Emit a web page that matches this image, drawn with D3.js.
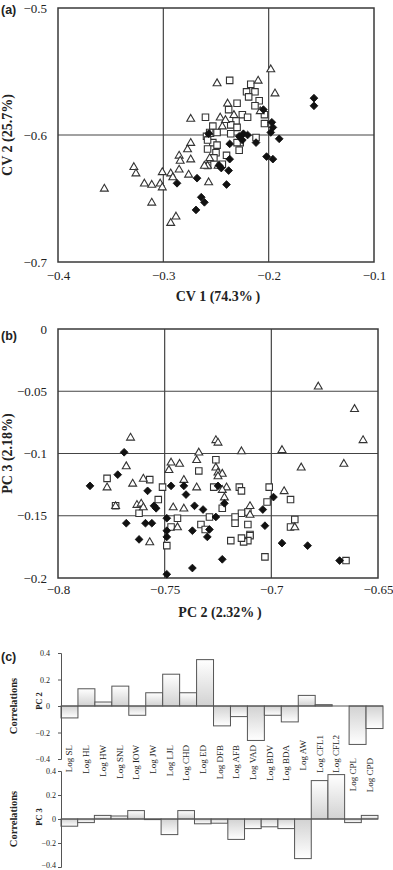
<!DOCTYPE html>
<html>
<head>
<meta charset="utf-8">
<script src="https://cdn.jsdelivr.net/npm/d3@7"></script>
<style>
  body { margin: 0; background: #fff; }
  svg { display: block; }
  text { font-family: "Liberation Serif", "Times New Roman", serif; fill: #222; }
  .panel-tag { font-family: "Liberation Sans", Arial, sans-serif; font-weight: bold; font-size: 12.5px; }
</style>
</head>
<body>
<div id="chart"></div>
<script>
// ---- (a) canonical variates : [CV1, CV2]
var cv_tri = [[-0.198,-0.548],[-0.249,-0.559],[-0.210,-0.557],[-0.194,-0.567],[-0.239,-0.575],[-0.208,-0.581],
  [-0.274,-0.587],[-0.246,-0.586],[-0.233,-0.584],[-0.241,-0.588],[-0.244,-0.593],[-0.256,-0.599],[-0.274,-0.606],
  [-0.277,-0.611],[-0.285,-0.616],[-0.284,-0.620],[-0.274,-0.619],[-0.328,-0.625],[-0.326,-0.630],[-0.301,-0.629],
  [-0.293,-0.630],[-0.291,-0.633],[-0.285,-0.627],[-0.276,-0.631],[-0.318,-0.638],[-0.311,-0.639],[-0.303,-0.638],
  [-0.301,-0.641],[-0.257,-0.637],[-0.356,-0.642],[-0.311,-0.653],[-0.288,-0.664],[-0.293,-0.669],[-0.256,-0.618],
  [-0.258,-0.624],[-0.248,-0.624],[-0.261,-0.624]];
var cv_sq = [[-0.237,-0.557],[-0.217,-0.560],[-0.221,-0.566],[-0.213,-0.566],[-0.219,-0.570],[-0.209,-0.573],
  [-0.230,-0.575],[-0.213,-0.577],[-0.238,-0.580],[-0.225,-0.584],[-0.204,-0.584],[-0.260,-0.586],[-0.220,-0.586],
  [-0.231,-0.589],[-0.253,-0.593],[-0.236,-0.592],[-0.230,-0.594],[-0.204,-0.591],[-0.256,-0.598],[-0.249,-0.598],
  [-0.236,-0.599],[-0.212,-0.602],[-0.259,-0.601],[-0.253,-0.606],[-0.227,-0.606],[-0.258,-0.604],[-0.249,-0.608],
  [-0.258,-0.611],[-0.250,-0.614],[-0.252,-0.618],[-0.240,-0.616],[-0.230,-0.606],[-0.228,-0.612],[-0.258,-0.624],
  [-0.244,-0.623]];
var cv_dia = [[-0.157,-0.571],[-0.157,-0.577],[-0.205,-0.580],[-0.197,-0.590],[-0.196,-0.594],[-0.198,-0.598],
  [-0.224,-0.599],[-0.220,-0.600],[-0.212,-0.606],[-0.190,-0.603],[-0.237,-0.607],[-0.228,-0.601],[-0.225,-0.604],
  [-0.202,-0.617],[-0.196,-0.619],[-0.237,-0.619],[-0.245,-0.626],[-0.238,-0.628],[-0.247,-0.624],[-0.268,-0.634],
  [-0.287,-0.638],[-0.240,-0.639],[-0.264,-0.649],[-0.261,-0.653],[-0.269,-0.659],[-0.257,-0.599]];

// ---- (b) principal components : [PC2, PC3]
var pc_tri = [[-0.678,-0.046],[-0.661,-0.064],[-0.657,-0.089],[-0.766,-0.087],[-0.734,-0.099],[-0.726,-0.089],
  [-0.725,-0.091],[-0.714,-0.098],[-0.695,-0.097],[-0.686,-0.111],[-0.666,-0.108],[-0.768,-0.110],[-0.777,-0.127],
  [-0.765,-0.124],[-0.760,-0.120],[-0.747,-0.107],[-0.743,-0.108],[-0.748,-0.113],[-0.735,-0.105],[-0.726,-0.111],
  [-0.725,-0.115],[-0.723,-0.116],[-0.741,-0.121],[-0.735,-0.127],[-0.763,-0.141],[-0.761,-0.140],[-0.760,-0.143],
  [-0.773,-0.142],[-0.746,-0.143],[-0.741,-0.144],[-0.744,-0.159],[-0.757,-0.171],[-0.721,-0.127],[-0.723,-0.129],
  [-0.722,-0.135],[-0.694,-0.130],[-0.710,-0.142],[-0.710,-0.149],[-0.689,-0.159],[-0.725,-0.118]];
var pc_sq = [[-0.726,-0.105],[-0.777,-0.120],[-0.757,-0.121],[-0.751,-0.127],[-0.753,-0.137],[-0.773,-0.142],
  [-0.762,-0.148],[-0.734,-0.114],[-0.727,-0.127],[-0.744,-0.152],[-0.747,-0.159],[-0.749,-0.174],[-0.733,-0.157],
  [-0.731,-0.161],[-0.729,-0.151],[-0.723,-0.144],[-0.715,-0.127],[-0.714,-0.130],[-0.701,-0.127],[-0.691,-0.137],
  [-0.702,-0.139],[-0.711,-0.147],[-0.714,-0.148],[-0.717,-0.151],[-0.717,-0.156],[-0.711,-0.157],[-0.689,-0.153],
  [-0.691,-0.159],[-0.710,-0.165],[-0.710,-0.166],[-0.711,-0.170],[-0.713,-0.171],[-0.719,-0.170],[-0.714,-0.168],
  [-0.703,-0.183],[-0.665,-0.186]];
var pc_dia = [[-0.769,-0.099],[-0.772,-0.117],[-0.785,-0.126],[-0.758,-0.130],[-0.747,-0.126],[-0.741,-0.126],
  [-0.740,-0.133],[-0.755,-0.142],[-0.754,-0.144],[-0.736,-0.142],[-0.732,-0.145],[-0.749,-0.152],[-0.768,-0.156],
  [-0.759,-0.156],[-0.756,-0.156],[-0.749,-0.162],[-0.749,-0.167],[-0.737,-0.162],[-0.729,-0.161],[-0.730,-0.167],
  [-0.762,-0.169],[-0.737,-0.192],[-0.749,-0.197],[-0.723,-0.185],[-0.725,-0.126],[-0.722,-0.140],[-0.699,-0.135],
  [-0.704,-0.145],[-0.703,-0.158],[-0.695,-0.172],[-0.683,-0.174],[-0.668,-0.186],[-0.726,-0.151]];

// ---- (c) correlations of traits with PC2 / PC3
var traits = ["Log SL","Log HL","Log HW","Log SNL","Log IOW","Log JW","Log LJL","Log CHD","Log ED","Log DFB",
  "Log AFB","Log VAD","Log BDV","Log BDA","Log AW","Log CFL1","Log CFL2","Log CPL","Log CPD"];
var pc2_corr = [-0.09,0.13,0.03,0.15,-0.07,0.10,0.24,0.10,0.35,-0.15,-0.08,-0.26,-0.07,-0.12,0.08,0.01,0.0,-0.29,-0.17];
var pc3_corr = [-0.06,-0.03,0.03,0.025,0.07,-0.005,-0.13,0.07,-0.04,-0.035,-0.17,-0.08,-0.065,-0.08,-0.33,0.32,0.37,-0.03,0.03];

// tick values
var cv_xticks = [-0.4,-0.3,-0.2,-0.1];
var cv_yticks = [-0.5,-0.6,-0.7];
var pc_xticks = [-0.8,-0.75,-0.7,-0.65];
var pc_yticks = [0,-0.05,-0.1,-0.15,-0.2];
var corr_ticks = [0.4,0.2,0,-0.2,-0.4];

var W = 393, H = 870;
var svg = d3.select("#chart").append("svg").attr("width", W).attr("height", H);

function fmt(v){
    if (Math.abs(v) < 1e-9) return "0";
    return (v < 0 ? "\u2212" : "") + String(+Math.abs(v).toFixed(2));
}

var tri = d3.symbol().type(d3.symbolTriangle).size(27);
var sq = d3.symbol().type(d3.symbolSquare).size(42);
var dia = d3.symbol().type(d3.symbolSquare).size(30);

/* un panneau de nuage de points avec cadre et quadrillage */
function scatter(cfg){
    var x = d3.scaleLinear().domain(cfg.xd).range([cfg.l, cfg.r]);
    var y = d3.scaleLinear().domain(cfg.yd).range([cfg.b, cfg.t]);
    var g = svg.append("g");

    // quadrillage
    g.selectAll("line.gx").data(cfg.xt.slice(1, -1)).enter().append("line")
        .attr("x1", d => x(d)).attr("x2", d => x(d)).attr("y1", cfg.t).attr("y2", cfg.b)
        .attr("stroke", "#444").attr("stroke-width", 1.2);
    g.selectAll("line.gy").data(cfg.yt.slice(1, -1)).enter().append("line")
        .attr("y1", d => y(d)).attr("y2", d => y(d)).attr("x1", cfg.l).attr("x2", cfg.r)
        .attr("stroke", "#444").attr("stroke-width", 1.2);
    g.append("rect").attr("x", cfg.l).attr("y", cfg.t)
        .attr("width", cfg.r - cfg.l).attr("height", cfg.b - cfg.t)
        .attr("fill", "none").attr("stroke", "#3a3a3a").attr("stroke-width", 1.5);

    // etiquettes des axes
    var ax = g.append("g").attr("transform", "translate(0," + cfg.b + ")")
        .call(d3.axisBottom(x).tickValues(cfg.xt).tickFormat(fmt).tickSize(0).tickPadding(cfg.xpad));
    var ay = g.append("g").attr("transform", "translate(" + cfg.l + ",0)")
        .call(d3.axisLeft(y).tickValues(cfg.yt).tickFormat(fmt).tickSize(0).tickPadding(11));
    [ax, ay].forEach(function(a){
        a.select(".domain").remove();
        a.selectAll("text").style("font-family", '"Liberation Serif", serif').style("font-size", "13px").attr("fill", "#222");
    });

    g.append("text").attr("x", (cfg.l + cfg.r) / 2 + 2).attr("y", cfg.xtitleY)
        .attr("text-anchor", "middle").style("font-weight", "bold").style("font-size", "14px")
        .text(cfg.xtitle);
    g.append("text").attr("transform", "translate(12," + ((cfg.t + cfg.b) / 2) + ") rotate(-90)")
        .attr("text-anchor", "middle").style("font-weight", "bold").style("font-size", "14px")
        .text(cfg.ytitle);
    g.append("text").attr("class", "panel-tag").attr("x", 1).attr("y", cfg.tagY).text(cfg.tag);

    // points : carres, triangles, puis losanges
    g.selectAll("path.sq").data(cfg.sq).enter().append("path")
        .attr("d", sq).attr("transform", d => "translate(" + x(d[0]) + "," + y(d[1]) + ")")
        .attr("fill", "#fff").attr("stroke", "#333").attr("stroke-width", 1.1);
    g.selectAll("path.tri").data(cfg.tri).enter().append("path")
        .attr("d", tri).attr("transform", d => "translate(" + x(d[0]) + "," + (y(d[1]) + 0.5) + ")")
        .attr("fill", "#fff").attr("stroke", "#333").attr("stroke-width", 1.1);
    g.selectAll("path.dia").data(cfg.dia).enter().append("path")
        .attr("d", dia).attr("transform", d => "translate(" + x(d[0]) + "," + y(d[1]) + ") rotate(45)")
        .attr("fill", "#111").attr("stroke", "#111").attr("stroke-width", 0.8);
}

scatter({xd: [-0.4, -0.1], yd: [-0.7, -0.5], l: 58, r: 374, t: 8, b: 262,
    xt: cv_xticks, yt: cv_yticks, xpad: 9, xtitleY: 301,
    xtitle: "CV 1 (74.3%\u2009)", ytitle: "CV 2 (25.7%)", tag: "(a)", tagY: 14,
    tri: cv_tri, sq: cv_sq, dia: cv_dia});

scatter({xd: [-0.8, -0.65], yd: [-0.2, 0], l: 58, r: 378, t: 329, b: 578,
    xt: pc_xticks, yt: pc_yticks, xpad: 7, xtitleY: 617,
    xtitle: "PC 2 (2.32%\u2009)", ytitle: "PC 3 (2.18%)", tag: "(b)", tagY: 340,
    tri: pc_tri, sq: pc_sq, dia: pc_dia});

// ---- (c) diagrammes en barres
var defs = svg.append("defs");
var gp = defs.append("linearGradient").attr("id", "gPos").attr("x1", 0).attr("y1", 0).attr("x2", 0).attr("y2", 1);
gp.append("stop").attr("offset", "0%").attr("stop-color", "#ffffff");
gp.append("stop").attr("offset", "100%").attr("stop-color", "#d2d2d2");
var gn = defs.append("linearGradient").attr("id", "gNeg").attr("x1", 0).attr("y1", 0).attr("x2", 0).attr("y2", 1);
gn.append("stop").attr("offset", "0%").attr("stop-color", "#d2d2d2");
gn.append("stop").attr("offset", "100%").attr("stop-color", "#ffffff");

function bars(cfg){
    var x = d3.scaleBand().domain(traits).range([cfg.l, cfg.r]).padding(0);
    var y = d3.scaleLinear().domain([-0.4, 0.4]).range([cfg.b, cfg.t]);
    var g = svg.append("g");

    g.selectAll("rect").data(cfg.vals).enter().append("rect")
        .attr("x", (d, i) => x(traits[i]))
        .attr("width", x.bandwidth())
        .attr("y", d => y(Math.max(0, d)))
        .attr("height", d => Math.abs(y(d) - y(0)))
        .attr("fill", d => d >= 0 ? "url(#gPos)" : "url(#gNeg)")
        .attr("stroke", "#555").attr("stroke-width", 1);

    g.append("line").attr("x1", cfg.l).attr("x2", cfg.r).attr("y1", y(0)).attr("y2", y(0))
        .attr("stroke", "#555").attr("stroke-width", 1);

    var ay = g.append("g").attr("transform", "translate(" + cfg.l + ",0)")
        .call(d3.axisLeft(y).tickValues(corr_ticks).tickFormat(fmt).tickSize(3).tickPadding(cfg.pad));
    ay.select(".domain").attr("stroke", "#555");
    ay.selectAll("line").attr("stroke", "#555");
    ay.selectAll("text").style("font-family", '"Liberation Serif", serif').style("font-size", "8px").attr("fill", "#222");
    // la derniere etiquette du bas reste dans le cadre
    ay.selectAll("text").filter(d => d === -0.4).attr("dy", cfg.lastDy);

    g.append("text").attr("transform", "translate(42," + cfg.nameY + ") rotate(-90)")
        .attr("text-anchor", "middle").style("font-weight", "bold").style("font-size", "8.5px").text(cfg.name);
    g.append("text").attr("transform", "translate(17," + y(0) + ") rotate(-90)")
        .attr("text-anchor", "middle").style("font-weight", "bold").style("font-size", "10.5px").text("Correlations");
    return x;
}

bars({l: 61, r: 383, t: 653, b: 759, vals: pc2_corr, name: "PC 2", nameY: 701, pad: 8, lastDy: "0.32em"});
var xb = bars({l: 61, r: 378, t: 771, b: 867, vals: pc3_corr, name: "PC 3", nameY: 817, pad: 2, lastDy: "0.05em"});

svg.append("text").attr("class", "panel-tag").attr("x", 1).attr("y", 661).text("(c)");

// etiquettes des variables (rattachees au graphe PC 3)
var labelTop = {"Log AW": 740, "Log CFL1": 735, "Log CFL2": 735, "Log CPL": 758, "Log CPD": 758};
svg.append("g").selectAll("text").data(traits).enter().append("text")
    .attr("transform", d => "translate(" + (xb(d) + xb.bandwidth() / 2) + "," + (labelTop[d] || 745) + ") rotate(-90)")
    .attr("text-anchor", "end").attr("dy", "0.35em")
    .style("font-size", "9px")
    .text(d => d);
</script>
</body>
</html>
